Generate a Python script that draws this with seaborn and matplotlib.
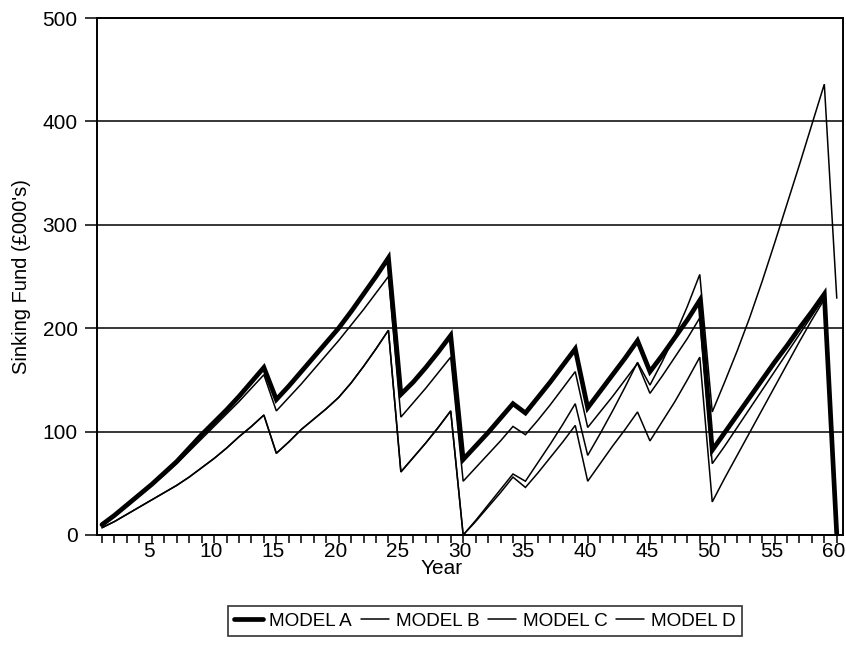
import matplotlib
matplotlib.use("Agg")
import matplotlib.pyplot as plt
import matplotlib.transforms as mtransforms
import seaborn as sns
import pandas as pd
from matplotlib.ticker import MultipleLocator, FixedLocator
from matplotlib.lines import Line2D

years = list(range(1, 61))

model_a = [10, 19, 29, 39, 49, 60, 71, 84, 97, 109, 121, 134, 148, 162,
           131, 144, 158, 172, 186, 200, 216, 233, 250, 268,
           136, 148, 162, 177, 193,
           73, 86, 99, 113, 127,
           118, 133, 148, 164, 180,
           123, 139, 155, 171, 188,
           158, 174, 191, 208, 227,
           82, 99, 116, 133, 150, 167, 183, 200, 216, 233,
           0]
model_b = [9, 18, 28, 38, 48, 58, 69, 81, 93, 105, 117, 129, 142, 155,
           120, 133, 146, 160, 174, 188, 203, 218, 234, 250,
           114, 128, 142, 157, 172,
           52, 65, 78, 91, 105,
           97, 111, 126, 142, 158,
           104, 119, 134, 150, 166,
           137, 154, 172, 190, 210,
           69, 86, 104, 122, 140, 158, 176, 194, 212, 230,
           0]
model_c = [7, 13, 20, 27, 34, 41, 48, 56, 65, 74, 84, 95, 105, 116,
           79, 90, 102, 112, 122, 133, 147, 163, 180, 198,
           61, 75, 89, 104, 120,
           0, 14, 29, 44, 59,
           52, 70, 88, 107, 127,
           77, 98, 120, 143, 167,
           145, 168, 193, 221, 252,
           119, 148, 178, 210, 245, 282, 320, 358, 397, 436,
           229]
model_d = [7, 13, 20, 27, 34, 41, 48, 56, 65, 74, 84, 95, 105, 116,
           79, 90, 102, 112, 122, 133, 147, 163, 180, 198,
           61, 75, 89, 104, 120,
           0, 13, 27, 41, 56,
           46, 60, 75, 90, 106,
           52, 69, 86, 102, 119,
           91, 110, 129, 150, 172,
           32, 55, 77, 99, 121, 143, 165, 187, 208, 228,
           0]

labels = ["MODEL A", "MODEL B", "MODEL C", "MODEL D"]
widths = {"MODEL A": 3.4, "MODEL B": 1.1, "MODEL C": 1.1, "MODEL D": 1.1}

df = pd.DataFrame({
    "Year": years * 4,
    "Fund": model_a + model_b + model_c + model_d,
    "Model": sum([[l] * 60 for l in labels], []),
})

sns.set_theme(style="white")
plt.rcParams["font.family"] = ["Liberation Sans", "DejaVu Sans"]
plt.rcParams["text.color"] = "black"
plt.rcParams["axes.labelcolor"] = "black"
plt.rcParams["xtick.color"] = "black"
plt.rcParams["ytick.color"] = "black"

fig = plt.figure(figsize=(8.46, 6.53), dpi=100)
ax = fig.add_axes([97 / 846, 1 - 535 / 653, (843 - 97) / 846, (535 - 18) / 653])

for lab in ["MODEL D", "MODEL C", "MODEL B", "MODEL A"]:
    sub = df[df["Model"] == lab]
    sns.lineplot(data=sub, x="Year", y="Fund", ax=ax, color="black",
                 linewidth=widths[lab], legend=False, estimator=None,
                 solid_joinstyle="miter", zorder=3 if lab == "MODEL A" else 2)

ax.set_xlim(0.6, 60.5)
ax.set_ylim(0, 500)
ax.yaxis.set_major_locator(FixedLocator([0, 100, 200, 300, 400, 500]))
ax.xaxis.set_major_locator(FixedLocator(list(range(5, 61, 5))))
ax.xaxis.set_minor_locator(MultipleLocator(1))
ax.grid(axis="y", color="black", linewidth=1.1)
ax.set_axisbelow(True)
for s in ax.spines.values():
    s.set_color("black")
    s.set_linewidth(1.4)
ax.tick_params(axis="x", which="both", direction="out", length=6, width=1.1,
               color="black", labelcolor="black", bottom=True, labelsize=15,
               pad=-1)
ax.tick_params(axis="y", which="major", direction="out", length=9, width=1.1,
               color="black", labelcolor="black", left=True, labelsize=15,
               pad=5)
shift = mtransforms.ScaledTranslation(-3 / 100, 0, fig.dpi_scale_trans)
for t in ax.get_xticklabels():
    t.set_transform(t.get_transform() + shift)
ax.set_xlabel("Year", fontsize=15, color="black")
ax.set_ylabel("Sinking Fund (\u00a3000's)", fontsize=14.5, labelpad=8,
              color="black")
ax.xaxis.set_label_coords(0.462, (535 - 568) / 517, transform=ax.transAxes)
ax.xaxis.label.set_va("center")

handles = [Line2D([], [], color="black", linewidth=widths[l]) for l in labels]
leg = fig.legend(handles, labels, loc="center",
                 bbox_to_anchor=(485 / 846, 1 - 621 / 653), ncol=4,
                 frameon=True, fancybox=False, edgecolor="black",
                 prop={"size": 13.6},
                 handlelength=1.5, handletextpad=0.35,
                 columnspacing=0.45, borderpad=0.35, borderaxespad=0)
leg.get_frame().set_linewidth(1.2)
for txt in leg.get_texts():
    txt.set_color("black")

fig.savefig("out.png", dpi=100)
